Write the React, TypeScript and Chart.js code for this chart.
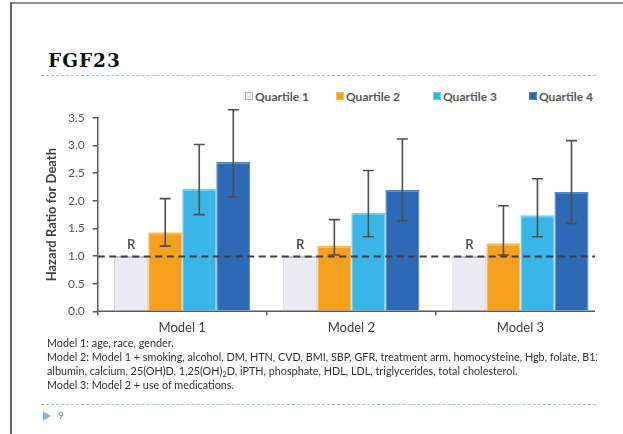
import React, { useEffect, useRef } from "react";
import { Chart, registerables } from "chart.js";

Chart.register(...registerables);

// Hazard ratios for death by FGF23 quartile, three adjustment models
const models = ["Model 1", "Model 2", "Model 3"];
const quartiles = ["Quartile 1", "Quartile 2", "Quartile 3", "Quartile 4"];

const q1 = [1.0, 1.0, 1.0];
const q2 = [1.43, 1.19, 1.23];
const q3 = [2.22, 1.78, 1.74];
const q4 = [2.71, 2.2, 2.16];

// 95% confidence limits
const q2Lower = [1.18, 1.02, 1.02];
const q2Upper = [2.04, 1.66, 1.91];
const q3Lower = [1.75, 1.35, 1.35];
const q3Upper = [3.02, 2.55, 2.4];
const q4Lower = [2.07, 1.64, 1.59];
const q4Upper = [3.65, 3.12, 3.09];

const referenceHR = 1.0;
const referenceLabel = "R";
const yMin = 0;
const yMax = 3.5;
const yStep = 0.5;

const fills = ["#ECEAF3", "#F5A01F", "#3AB5E8", "#2D69B5"];
const edges = ["#C4C3CB", "#F8BE4E", "#6CCDF3", "#4C86CF"];
const AXIS = "#5A5A5A";
const FONT = "Lato, 'Open Sans', sans-serif";

const footnotes: React.ReactNode[] = [
  "Model 1: age, race, gender.",
  "Model 2: Model 1 + smoking, alcohol, DM, HTN, CVD, BMI, SBP, GFR, treatment arm, homocysteine, Hgb, folate, B12,",
  <>
    albumin, calcium, 25(OH)D, 1,25(OH)
    <span style={{ fontSize: "0.7em", position: "relative", top: "0.3em", lineHeight: 0 }}>2</span>D, iPTH,
    phosphate, HDL, LDL, triglycerides, total cholesterol.
  </>,
  "Model 3: Model 2 + use of medications.",
];

const intervals = [null, [q2Lower, q2Upper], [q3Lower, q3Upper], [q4Lower, q4Upper]];

const overlay = {
  id: "overlay",
  afterDatasetsDraw(chart: any) {
    const { ctx, chartArea, scales } = chart;
    const y = scales.y;
    const axisEnd = chartArea.right - 10;
    ctx.save();

    // horizontal axis line
    ctx.strokeStyle = AXIS;
    ctx.lineWidth = 1.5;
    ctx.beginPath();
    ctx.moveTo(chartArea.left, y.getPixelForValue(yMin));
    ctx.lineTo(axisEnd, y.getPixelForValue(yMin));
    ctx.stroke();

    // reference line at HR = 1
    const yr = Math.round(y.getPixelForValue(referenceHR)) + 0.5;
    ctx.strokeStyle = "#3F3F3F";
    ctx.lineWidth = 2;
    ctx.setLineDash([7, 4.5]);
    ctx.beginPath();
    ctx.moveTo(chartArea.left, yr);
    ctx.lineTo(axisEnd, yr);
    ctx.stroke();
    ctx.setLineDash([]);

    // confidence intervals
    ctx.strokeStyle = "#4F4F4F";
    ctx.lineWidth = 1.6;
    intervals.forEach((pair, i) => {
      if (!pair) return;
      const meta = chart.getDatasetMeta(i);
      meta.data.forEach((bar: any, j: number) => {
        const cx = bar.x;
        const yl = y.getPixelForValue(pair[0][j]);
        const yh = y.getPixelForValue(pair[1][j]);
        ctx.beginPath();
        ctx.moveTo(cx, yl);
        ctx.lineTo(cx, yh);
        ctx.moveTo(cx - 5.5, yl);
        ctx.lineTo(cx + 5.5, yl);
        ctx.moveTo(cx - 5.5, yh);
        ctx.lineTo(cx + 5.5, yh);
        ctx.stroke();
      });
    });

    // reference-group markers
    const refMeta = chart.getDatasetMeta(0);
    ctx.fillStyle = "#5A5A5A";
    ctx.font = `bold 13px ${FONT}`;
    ctx.textAlign = "center";
    ctx.textBaseline = "middle";
    refMeta.data.forEach((bar: any) => {
      ctx.fillText(referenceLabel, bar.x, y.getPixelForValue(referenceHR) - 11);
    });
    ctx.restore();
  },
};

function HazardChart() {
  const ref = useRef<HTMLCanvasElement | null>(null);
  useEffect(() => {
    if (!ref.current) return;
    const series = [q1, q2, q3, q4];
    const chart = new Chart(ref.current, {
      type: "bar",
      data: {
        labels: models,
        datasets: series.map((values, i) => ({
          label: quartiles[i],
          data: values,
          backgroundColor: fills[i],
          borderColor: edges[i],
          borderWidth: { top: 2, left: 1, right: 1, bottom: 0 },
          borderSkipped: false,
          categoryPercentage: 0.805,
          barPercentage: 1.0,
        })),
      },
      options: {
        animation: false,
        responsive: false,
        maintainAspectRatio: false,
        devicePixelRatio: 1,
        layout: { padding: { left: 40, right: 18, top: 18, bottom: 0 } },
        plugins: {
          legend: { display: false },
          tooltip: { enabled: false },
        },
        scales: {
          x: {
            border: { display: false },
            grid: {
              display: true,
              offset: true,
              drawOnChartArea: false,
              drawTicks: true,
              tickLength: 4,
              lineWidth: 1.5,
              // no tick mark at the far right end of the axis
              color: (c: any) => (c.type === "tick" ? AXIS : "rgba(0,0,0,0)"),
            },
            ticks: {
              color: "#404040",
              font: { family: FONT, size: 13 },
              padding: 5,
            },
            afterFit: (s: any) => {
              s.height = 28.7;
            },
          },
          y: {
            min: yMin,
            max: yMax,
            border: { display: true, color: AXIS, width: 1.5 },
            grid: {
              display: true,
              drawOnChartArea: false,
              drawTicks: true,
              tickLength: 5,
              lineWidth: 1.5,
              color: AXIS,
            },
            ticks: {
              stepSize: yStep,
              color: "#595959",
              font: { family: FONT, size: 12 },
              padding: 8,
              callback: (v: any) => Number(v).toFixed(1),
            },
            title: {
              display: true,
              text: "Hazard Ratio for Death",
              color: "#404040",
              font: { family: FONT, size: 13, weight: "bold" },
              padding: { top: 4, bottom: 0 },
            },
            afterFit: (s: any) => {
              s.width = 57.7;
            },
          },
        },
      },
      plugins: [overlay],
    });
    return () => chart.destroy();
  }, []);
  return (
    <canvas
      ref={ref}
      width={623}
      height={240}
      style={{ position: "absolute", left: 0, top: 100, width: 623, height: 240 }}
    />
  );
}

export default function App() {
  const legendX = [245, 336, 433, 529];
  return (
    <div
      style={{
        position: "absolute",
        left: 0,
        top: 0,
        width: 623,
        height: 434,
        overflow: "hidden",
        background: "#FFFFFF",
        fontFamily: FONT,
      }}
    >
      {/* slide frame */}
      <div style={{ position: "absolute", left: 10, top: 2, width: 613, height: 2, background: "#8E8E8E" }} />
      <div style={{ position: "absolute", left: 10, top: 2, width: 2, height: 432, background: "#666666" }} />

      {/* heading */}
      <div
        style={{
          position: "absolute",
          left: 48,
          top: 51,
          fontFamily: "'DejaVu Serif', serif",
          fontWeight: "bold",
          fontSize: 18.5,
          lineHeight: "20px",
          color: "#111111",
          letterSpacing: 1,
        }}
      >
        FGF23
      </div>
      <div
        style={{
          position: "absolute",
          left: 41,
          top: 75,
          width: 555,
          borderTop: "1px dashed #A9C3D2",
        }}
      />

      {/* legend */}
      {quartiles.map((q, i) => (
        <div
          key={q}
          style={{
            position: "absolute",
            left: legendX[i],
            top: 88,
            height: 16,
            display: "flex",
            alignItems: "center",
            whiteSpace: "nowrap",
          }}
        >
          <span
            style={{
              display: "inline-block",
              width: 6,
              height: 6,
              background: fills[i],
              border: `1px solid ${i === 0 ? "#B5B5BC" : edges[i]}`,
              marginRight: 2,
            }}
          />
          <span style={{ fontWeight: "bold", fontSize: 12, color: "#595959" }}>{q}</span>
        </div>
      ))}

      <HazardChart />

      {/* model definitions (text box clips at its right edge) */}
      <div
        style={{
          position: "absolute",
          left: 47,
          top: 336,
          width: 550,
          overflow: "hidden",
          fontSize: 10.8,
          lineHeight: "14px",
          color: "#333333",
          whiteSpace: "nowrap",
        }}
      >
        {footnotes.map((t, i) => (
          <div key={i}>{t}</div>
        ))}
      </div>

      {/* footer */}
      <div
        style={{
          position: "absolute",
          left: 41,
          top: 404,
          width: 555,
          borderTop: "1px dashed #A9C3D2",
        }}
      />
      <div
        style={{
          position: "absolute",
          left: 43,
          top: 411,
          width: 0,
          height: 0,
          borderTop: "5px solid transparent",
          borderBottom: "5px solid transparent",
          borderLeft: "8px solid #8DB5D1",
        }}
      />
      <div style={{ position: "absolute", left: 58, top: 409, fontSize: 10, color: "#7F7F7F" }}>9</div>
    </div>
  );
}
